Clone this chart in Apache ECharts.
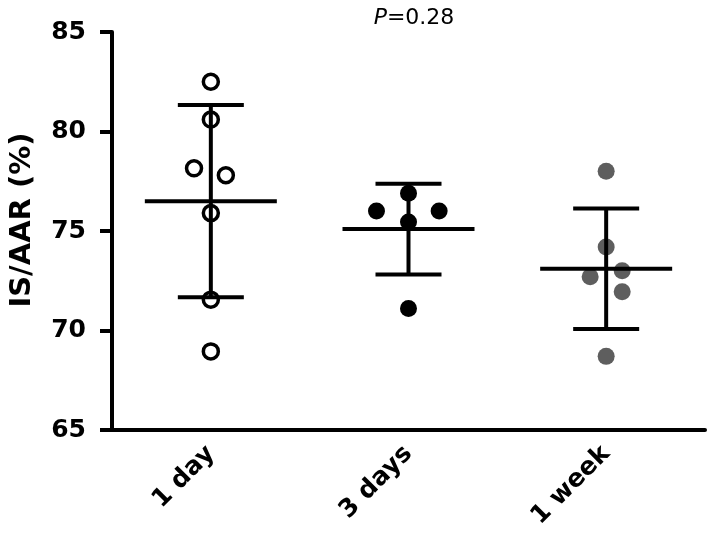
<!DOCTYPE html>
<html>
<head>
<meta charset="utf-8">
<script src="https://cdn.jsdelivr.net/npm/echarts@6/dist/echarts.min.js"></script>
<style>
  html, body { margin: 0; padding: 0; background: #fff; }
  #chart { width: 708px; height: 535px; }
</style>
</head>
<body>
<div id="chart"></div>
<script>
// groups on the x axis
var categories = ['1 day', '3 days', '1 week'];
var yTicks = [65, 70, 75, 80, 85];

// individual points (values) and their horizontal jitter (in category units)
var day1Values = [82.5, 80.6, 78.15, 77.8, 75.9, 71.55, 68.95];
var day1Jitter = [0, 0, -0.085, 0.076, 0, 0, 0];
var day3Values = [76.9, 76.0, 76.0, 75.45, 71.1];
var day3Jitter = [0, -0.162, 0.155, 0, 0];
var week1Values = [78.0, 74.2, 73.0, 72.7, 71.95, 68.7];
var week1Jitter = [0, 0, 0.081, -0.081, 0.081, 0];

// mean and SD per group
var means = [76.5, 75.1, 73.1];
var sds = [4.83, 2.28, 3.03];

var font = 'DejaVu Sans';

function pts(idx, vals, jit) {
  return vals.map(function (v, i) { return [idx + jit[i], v]; });
}

var chart = echarts.init(document.getElementById('chart'));

var option = {
  animation: false,
  title: {
    text: '{i|P}=0.28',
    left: 409,
    textAlign: 'center',
    top: 2,
    textStyle: {
      rich: {
        i: { fontFamily: font, fontSize: 22, fontStyle: 'italic', color: '#000' }
      },
      fontFamily: font,
      fontSize: 22,
      fontWeight: 'normal',
      color: '#000'
    }
  },
  grid: { left: 109, right: 3, top: 32, bottom: 105 },
  xAxis: [
    {
      type: 'category',
      data: categories,
      boundaryGap: true,
      axisLine: { lineStyle: { color: '#000', width: 4 } },
      axisTick: { alignWithLabel: true, length: 12, lineStyle: { color: '#000', width: 4 } },
      axisLabel: {
        rotate: 45,
        margin: 20,
        color: '#000',
        fontFamily: font,
        fontWeight: 'bold',
        fontSize: 25
      },
      splitLine: { show: false }
    },
    {
      type: 'value',
      min: -0.5,
      max: 2.5,
      show: false
    }
  ],
  yAxis: {
    type: 'value',
    min: 65,
    max: 85,
    interval: 5,
    name: 'IS/AAR (%)',
    nameLocation: 'middle',
    nameRotate: 90,
    nameGap: 75,
    nameTextStyle: { color: '#000', fontFamily: font, fontWeight: 'bold', fontSize: 29, padding: [0, 0, 0, 22] },
    axisLine: { show: true, onZero: false, lineStyle: { color: '#000', width: 4 } },
    axisTick: { show: true, length: 12, lineStyle: { color: '#000', width: 4 } },
    axisLabel: {
      margin: 26,
      color: '#000',
      fontFamily: font,
      fontWeight: 'bold',
      fontSize: 25,
      formatter: function (v) { return yTicks.indexOf(v) >= 0 ? String(v) : ''; }
    },
    splitLine: { show: false }
  },
  series: [
    {
      type: 'scatter',
      xAxisIndex: 1,
      data: pts(0, day1Values, day1Jitter),
      symbol: 'circle',
      symbolSize: 15,
      itemStyle: { color: '#fff', borderColor: '#000', borderWidth: 3.5, opacity: 1 },
      z: 2
    },
    {
      type: 'scatter',
      xAxisIndex: 1,
      data: pts(1, day3Values, day3Jitter),
      symbol: 'circle',
      symbolSize: 17,
      itemStyle: { color: '#000', opacity: 1 },
      z: 2
    },
    {
      type: 'scatter',
      xAxisIndex: 1,
      data: pts(2, week1Values, week1Jitter),
      symbol: 'circle',
      symbolSize: 17,
      itemStyle: { color: '#5e5e5e', opacity: 1 },
      z: 2
    },
    {
      type: 'custom',
      xAxisIndex: 1,
      z: 5,
      data: means.map(function (m, i) { return [i, m, sds[i]]; }),
      renderItem: function (params, api) {
        var x = api.value(0), m = api.value(1), s = api.value(2);
        var c = api.coord([x, m]);
        var top = api.coord([x, m + s]);
        var bot = api.coord([x, m - s]);
        var st = { stroke: '#000', lineWidth: 4 };
        return {
          type: 'group',
          children: [
            { type: 'line', shape: { x1: c[0] - 66, y1: c[1], x2: c[0] + 66, y2: c[1] }, style: st },
            { type: 'line', shape: { x1: top[0], y1: top[1], x2: bot[0], y2: bot[1] }, style: st },
            { type: 'line', shape: { x1: top[0] - 33, y1: top[1], x2: top[0] + 33, y2: top[1] }, style: st },
            { type: 'line', shape: { x1: bot[0] - 33, y1: bot[1], x2: bot[0] + 33, y2: bot[1] }, style: st }
          ]
        };
      }
    }
  ]
};

chart.setOption(option);
window.onresize = function () { chart.resize(); };
</script>
</body>
</html>
